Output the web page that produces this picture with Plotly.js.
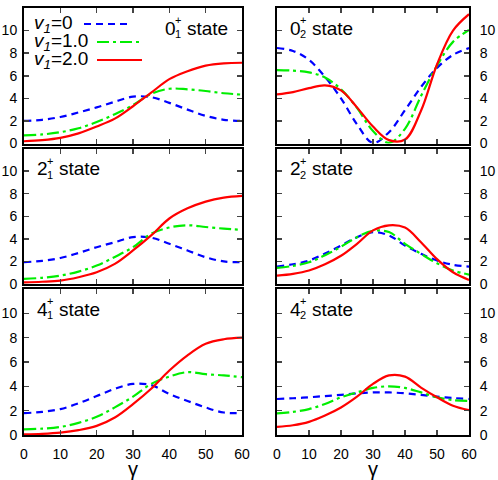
<!DOCTYPE html>
<html>
<head>
<meta charset="utf-8">
<script src="https://cdn.plot.ly/plotly-3.0.1.min.js"></script>
<style>body{margin:0;background:#fff}</style>
</head>
<body>
<div id="plot" style="width:498px;height:480px"></div>
<script>
// gamma grid (degrees)
const gamma = [0, 5, 10, 15, 20, 25, 30, 35, 40, 45, 50, 55, 60];

// 0+_1 state
const s01_v0 = [2.0, 2.1, 2.35, 2.75, 3.2, 3.7, 4.15, 4.1, 3.6, 3.0, 2.45, 2.1, 2.0];
const s01_v1 = [0.72, 0.8, 1.0, 1.35, 1.9, 2.6, 3.4, 4.4, 4.85, 4.8, 4.65, 4.45, 4.33];
const s01_v2 = [0.2, 0.3, 0.5, 0.9, 1.5, 2.2, 3.3, 4.5, 5.7, 6.4, 6.9, 7.1, 7.15];
// 0+_2 state
const s02_v0 = [8.46, 8.2, 7.4, 5.9, 4.0, 1.7, 0.05, 1.0, 2.95, 5.0, 6.7, 7.85, 8.45];
const s02_v1 = [6.5, 6.45, 6.3, 5.85, 4.8, 3.15, 1.1, 0.06, 1.3, 4.2, 6.9, 9.0, 10.05];
const s02_v2 = [4.35, 4.55, 4.9, 5.15, 4.7, 3.2, 1.5, 0.3, 0.35, 2.9, 7.0, 10.0, 11.45];
// 2+_1 state
const s21_v0 = [1.93, 2.05, 2.3, 2.75, 3.26, 3.7, 4.15, 4.1, 3.56, 2.97, 2.37, 2.0, 1.93];
const s21_v1 = [0.45, 0.55, 0.74, 1.1, 1.63, 2.4, 3.26, 4.45, 5.0, 5.2, 5.05, 4.9, 4.8];
const s21_v2 = [0.15, 0.2, 0.3, 0.6, 1.04, 1.78, 2.97, 4.3, 5.8, 6.7, 7.3, 7.65, 7.8];
// 2+_2 state
const s22_v0 = [1.54, 1.75, 2.08, 2.7, 3.4, 4.15, 4.6, 4.3, 3.4, 2.67, 2.08, 1.7, 1.54];
const s22_v1 = [1.42, 1.6, 1.93, 2.55, 3.3, 4.15, 4.7, 4.6, 3.56, 2.67, 1.84, 1.2, 0.83];
const s22_v2 = [0.74, 0.9, 1.2, 1.75, 2.5, 3.56, 4.75, 5.2, 5.0, 3.7, 2.2, 1.04, 0.36];
// 4+_1 state
const s41_v0 = [1.8, 1.9, 2.13, 2.6, 3.2, 3.8, 4.2, 4.1, 3.37, 2.8, 2.26, 1.85, 1.8];
const s41_v1 = [0.47, 0.52, 0.66, 1.0, 1.5, 2.27, 3.15, 4.2, 4.8, 5.17, 5.0, 4.9, 4.75];
const s41_v2 = [0.05, 0.1, 0.2, 0.4, 0.75, 1.44, 2.54, 3.8, 5.3, 6.55, 7.5, 7.87, 8.0];
// 4+_2 state
const s42_v0 = [2.96, 3.02, 3.1, 3.2, 3.3, 3.42, 3.5, 3.5, 3.43, 3.3, 3.15, 3.04, 2.96];
const s42_v1 = [1.77, 1.9, 2.13, 2.55, 3.1, 3.5, 3.87, 4.0, 3.87, 3.5, 3.1, 2.87, 2.8];
const s42_v2 = [0.66, 0.8, 1.08, 1.6, 2.26, 3.15, 4.2, 4.9, 4.8, 3.9, 3.1, 2.4, 2.04];

const stateDigit = ["0", "0", "2", "2", "4", "4"];
const stateIndex = ["1", "2", "1", "2", "1", "2"];
const legendVals = ["0", "1.0", "2.0"];
const xTicks = [0, 10, 20, 30, 40, 50, 60];

const panels = [
  [s01_v0, s01_v1, s01_v2], [s02_v0, s02_v1, s02_v2],
  [s21_v0, s21_v1, s21_v2], [s22_v0, s22_v1, s22_v2],
  [s41_v0, s41_v1, s41_v2], [s42_v0, s42_v1, s42_v2]
];

const W = 498, H = 480;
const FONT = "Liberation Sans, Arial, sans-serif";
const colors = ["#0000ff", "#00ee00", "#ff0000"];
const dashes = ["7px,5px", "12px,4px,3px,4px", "solid"];

// panel boxes in pixels: [left, right], [top, bottom]
const colPx = [[24, 242], [277, 469]];
const rowPx = [[8, 143.5], [148.5, 284], [289, 435]];

const data = [];
const layout = {
  width: W, height: H,
  margin: {l: 0, r: 0, t: 0, b: 0},
  paper_bgcolor: "white", plot_bgcolor: "white",
  showlegend: false,
  font: {family: FONT, size: 14, color: "#000"},
  annotations: [], shapes: []
};

panels.forEach((series, i) => {
  const n = i === 0 ? "" : String(i + 1);
  const col = i % 2, row = Math.floor(i / 2);
  const bottom = row === 2;
  series.forEach((vals, k) => {
    data.push({
      x: gamma, y: vals, xaxis: "x" + n, yaxis: "y" + n,
      mode: "lines", line: {color: colors[k], width: 2.2, dash: dashes[k], shape: "spline"},
      hoverinfo: "skip"
    });
  });
  const [l, r] = colPx[col];
  const [t, b] = rowPx[row];
  const xa = {
    domain: [l / W, r / W], anchor: "y" + n, range: [0, 60],
    tickvals: xTicks, ticks: "inside", ticklen: 5, tickwidth: 1.5,
    mirror: "allticks", showline: true, linewidth: 2, linecolor: "#000",
    showgrid: false, zeroline: false, showticklabels: bottom,
    tickfont: {size: 14}, ticklabelstandoff: 5
  };
  if (bottom) xa.title = {text: "γ", font: {size: 20}, standoff: 3};
  layout["xaxis" + n] = xa;
  layout["yaxis" + n] = {
    domain: [1 - b / H, 1 - t / H], anchor: "x" + n, range: [0, 12],
    tickvals: row === 0 ? [0, 2, 4, 6, 8, 10, 12] : [0, 2, 4, 6, 8, 10],
    side: col === 0 ? "left" : "right",
    ticks: "inside", ticklen: 5, tickwidth: 1.5,
    mirror: "allticks", showline: true, linewidth: 2, linecolor: "#000",
    showgrid: false, zeroline: false, tickfont: {size: 14},
    ticklabelstandoff: col === 0 ? 2 : 6
  };

  // state label: digit with stacked + and index, then "state"
  const px = i === 0 ? 165 : l + 13;
  const cy = t + 20;
  const ann = (x, y, text, size) => layout.annotations.push({
    xref: "paper", yref: "paper", x: x / W, y: 1 - y / H,
    xanchor: "left", yanchor: "middle", showarrow: false,
    text: text, font: {size: size}, borderpad: 0
  });
  ann(px - 1, cy, stateDigit[i], 19);
  ann(px + 9, cy - 8, "+", 11);
  ann(px + 9, cy + 6, stateIndex[i], 11);
  ann(px + 21, cy, "state", 19);
});

// legend in the first panel
const legY = [24, 42, 60];
const legX = [[84, 128], [97, 141], [97, 142]];
legendVals.forEach((v, k) => {
  layout.annotations.push({
    xref: "paper", yref: "paper", x: 33 / W, y: 1 - legY[k] / H,
    xanchor: "left", yanchor: "middle", showarrow: false, borderpad: 0,
    text: "<i>v</i><sub><i>1</i></sub>=" + v, font: {size: 19}
  });
  layout.shapes.push({
    type: "line", xref: "paper", yref: "paper",
    x0: legX[k][0] / W, x1: legX[k][1] / W, y0: 1 - legY[k] / H, y1: 1 - legY[k] / H,
    line: {color: colors[k], width: 2.2, dash: dashes[k]}
  });
});

Plotly.newPlot("plot", data, layout, {displayModeBar: false, staticPlot: true});
</script>
</body>
</html>
